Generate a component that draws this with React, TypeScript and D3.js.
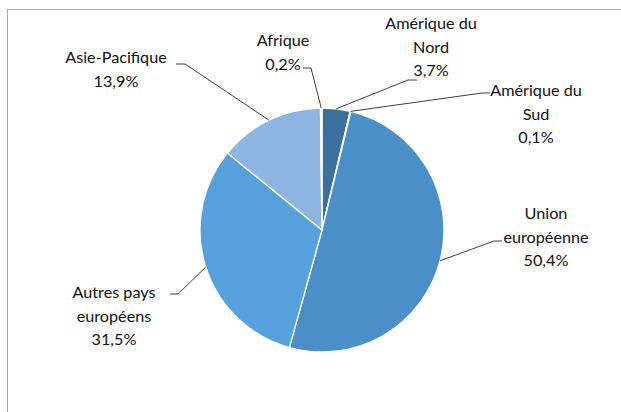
import React from "react";
import * as d3 from "d3";

const categories = [
  "Amérique du Nord",
  "Amérique du Sud",
  "Union européenne",
  "Autres pays européens",
  "Asie-Pacifique",
  "Afrique",
];
const values = [3.7, 0.1, 50.4, 31.5, 13.9, 0.2];
const colors = ["#3b6f9e", "#4a80b8", "#4a8fc7", "#56a1db", "#8cb6e1", "#c8dbf1"];

// label layout: text lines, center x, first baseline y, elbow point, horizontal end
const labelLines: string[][] = [
  ["Amérique du", "Nord"],
  ["Amérique du", "Sud"],
  ["Union", "européenne"],
  ["Autres pays", "européens"],
  ["Asie-Pacifique"],
  ["Afrique"],
];
const labelPos = [
  { x: 431, y: 29, ex: 408, ey: 80, hx: 417 },
  { x: 536, y: 96, ex: 482, ey: 93, hx: 490 },
  { x: 546, y: 219, ex: 494, ey: 241, hx: 502 },
  { x: 114, y: 298, ex: 178, ey: 294, hx: 170 },
  { x: 116, y: 63, ex: 185, ey: 64, hx: 176 },
  { x: 283, y: 46, ex: 311, ey: 68, hx: 303 },
];

export default function App() {
  const W = 621,
    H = 412;
  const cx = 322,
    cy = 230,
    r = 122;
  const pie = d3
    .pie<number>()
    .sort(null)
    .value((d) => d);
  const arcs = pie(values);
  const arc = d3.arc<d3.PieArcDatum<number>>().innerRadius(0).outerRadius(r);
  const fmt = (v: number) => d3.format(".1f")(v).replace(".", ",") + "%";
  const lh = 23.5;

  return (
    <svg
      width={W}
      height={H}
      style={{ position: "absolute", left: 0, top: 0, background: "#fff" }}
      fontFamily="Lato, 'Open Sans', sans-serif"
      fontSize={16.2}
    >
      <rect x={0} y={0} width={W} height={H} fill="#fff" />
      <rect x={7.5} y={9.5} width={W + 50} height={H + 50} fill="#fff" stroke="#a6a6a6" strokeWidth={1} />
      <g transform={`translate(${cx},${cy})`}>
        {arcs.map((a, i) => (
          <path key={i} d={arc(a) || ""} fill={colors[i]} stroke="#fff" strokeWidth={1.3} />
        ))}
      </g>
      {arcs.map((a, i) => {
        const mid = (a.startAngle + a.endAngle) / 2;
        const sx = cx + r * Math.sin(mid);
        const sy = cy - r * Math.cos(mid);
        const p = labelPos[i];
        return (
          <polyline
            key={"l" + i}
            points={`${sx},${sy} ${p.ex},${p.ey} ${p.hx},${p.ey}`}
            fill="none"
            stroke="#404040"
            strokeWidth={1}
          />
        );
      })}
      {categories.map((c, i) => {
        const p = labelPos[i];
        const lines = [...labelLines[i], fmt(values[i])];
        return (
          <text key={"t" + i} x={p.x} y={p.y} textAnchor="middle" fill="#111">
            {lines.map((ln, j) => (
              <tspan key={j} x={p.x} y={p.y + j * lh}>
                {ln}
              </tspan>
            ))}
          </text>
        );
      })}
    </svg>
  );
}
